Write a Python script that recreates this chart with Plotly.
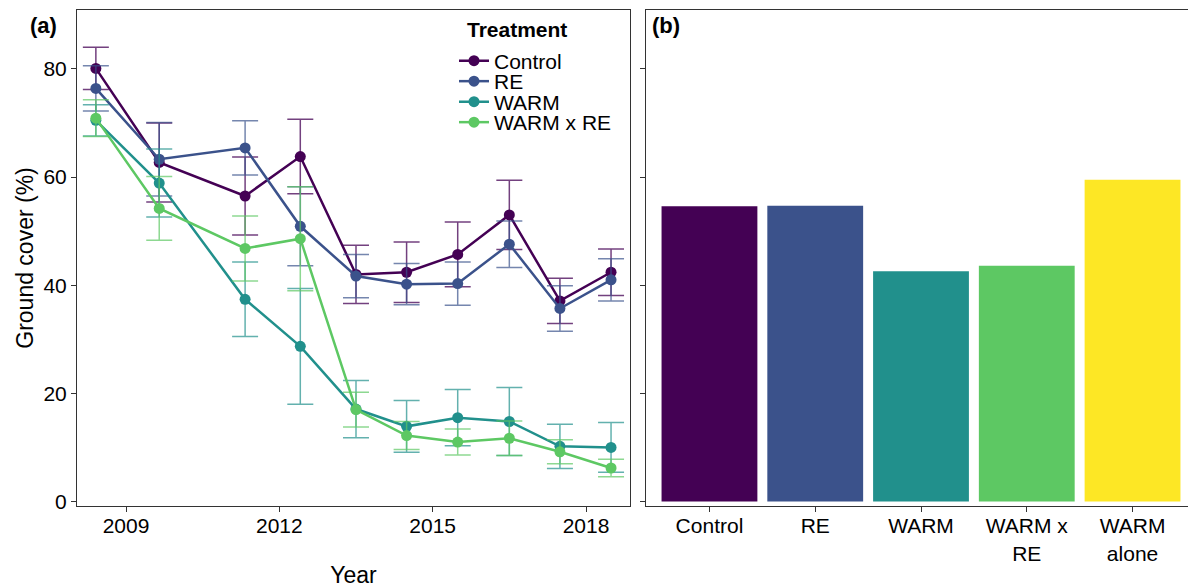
import plotly.graph_objects as go

# sampling dates as decimal years
years = [2008.41, 2009.65, 2011.33, 2012.41, 2013.50, 2014.49, 2015.49, 2016.50, 2017.49, 2018.49]

control = [80.1, 62.7, 56.5, 63.8, 42.0, 42.4, 45.7, 53.0, 37.1, 42.4]
control_se = [3.9, 7.3, 7.2, 6.9, 5.4, 5.6, 6.0, 6.4, 4.2, 4.3]
re = [76.4, 63.3, 65.4, 50.9, 41.7, 40.2, 40.3, 47.6, 35.7, 41.0]
re_se = [4.2, 6.8, 5.0, 7.3, 4.0, 3.8, 4.0, 4.3, 4.2, 3.9]
warm = [70.5, 58.9, 37.4, 28.7, 17.1, 13.9, 15.5, 14.8, 10.2, 10.0]
warm_se = [2.9, 6.3, 6.9, 10.7, 5.3, 4.8, 5.2, 6.3, 4.1, 4.6]
warm_re = [70.9, 54.2, 46.8, 48.6, 17.0, 12.2, 11.0, 11.7, 9.2, 6.2]
warm_re_se = [3.4, 5.9, 6.0, 9.6, 3.2, 2.6, 2.4, 3.2, 2.2, 1.6]

treatments = ["Control", "RE", "WARM", "WARM x RE"]
line_colors = ["#440154", "#3B528B", "#21908C", "#5DC863"]
err_colors = ["rgba(68,1,84,0.75)", "rgba(59,82,139,0.7)", "rgba(33,144,140,0.7)", "rgba(93,200,99,0.7)"]

bar_labels = ["Control", "RE", "WARM", "WARM x<br>RE", "WARM<br>alone"]
bar_values = [54.6, 54.7, 42.6, 43.6, 59.5]
bar_colors = ["#440154", "#3B528B", "#21908C", "#5DC863", "#FDE725"]

# page body has an 8px margin, so the figure is drawn 8px smaller
OFF = 8
W, H = 1196 - OFF, 588 - OFF
ML, MT, MB = 77 - OFF, 10 - OFF, H - (506 - OFF)
PW, PH = W - ML, H - MT - MB
FONT = "Liberation Sans, Arial, sans-serif"


def px(x):
    # screen x -> paper fraction
    return (x - OFF - ML) / PW


def py(y):
    # screen y -> paper fraction
    return 1 - (y - OFF - MT) / PH


fig = go.Figure()

legends = ["legend", "legend2", "legend3", "legend4"]
series = [(control, control_se), (re, re_se), (warm, warm_se), (warm_re, warm_re_se)]
for name, (vals, se), lc, ec, leg in zip(treatments, series, line_colors, err_colors, legends):
    fig.add_trace(go.Scatter(
        x=years, y=vals, name=name, mode="lines+markers", legend=leg,
        line=dict(color=lc, width=2.5),
        marker=dict(color=lc, size=11),
        error_y=dict(type="data", array=se, color=ec, thickness=1.5, width=13),
        xaxis="x", yaxis="y",
    ))

fig.add_trace(go.Bar(
    x=bar_labels, y=bar_values, marker=dict(color=bar_colors, line=dict(width=0)),
    showlegend=False, xaxis="x2", yaxis="y2",
))

axis_common = dict(showline=True, linecolor="#333333", linewidth=1, ticks="outside",
                   ticklen=5, tickcolor="#333333", showgrid=False, zeroline=False,
                   automargin=False,
                   tickfont=dict(size=21, color="black", family=FONT))

fig.update_layout(
    template="none",
    width=W, height=H,
    margin=dict(l=ML, r=0, t=MT, b=MB, pad=0),
    paper_bgcolor="white", plot_bgcolor="white",
    font=dict(family=FONT, color="black"),
    bargap=0.094,
    xaxis=dict(domain=[0, px(630)], range=[2008.041, 2018.861],
               tickvals=[2009, 2012, 2015, 2018], mirror=True, anchor="y",
               ticklabelstandoff=-4,
               title=dict(text="Year", font=dict(size=23), standoff=38), **axis_common),
    yaxis=dict(domain=[0, 1], range=[-0.83, 90.9], tickvals=[0, 20, 40, 60, 80],
               mirror=True, anchor="x",
               title=dict(text="Ground cover (%)", font=dict(size=23), standoff=3),
               **axis_common),
    xaxis2=dict(domain=[px(646), 1.0], range=[-0.6, 4.6], mirror=True, anchor="y2",
                ticklabelstandoff=-4, **axis_common),
    yaxis2=dict(domain=[0, 1], range=[-0.83, 90.9], tickvals=[0, 20, 40, 60, 80],
                showticklabels=False, anchor="x2", **axis_common),
    annotations=[
        dict(text="<b>(a)</b>", x=px(43), y=py(25), xref="paper", yref="paper",
             xanchor="center", yanchor="middle", showarrow=False, font=dict(size=22)),
        dict(text="<b>(b)</b>", x=px(666), y=py(25), xref="paper", yref="paper",
             xanchor="center", yanchor="middle", showarrow=False, font=dict(size=22)),
        dict(text="<b>Treatment</b>", x=px(465), y=py(30), xref="paper", yref="paper",
             xanchor="left", yanchor="middle", showarrow=False, font=dict(size=21)),
    ],
)

leg_y = [62, 82.5, 103, 123.5]
for leg, ly in zip(legends, leg_y):
    fig.update_layout({leg: dict(x=px(454), y=py(ly - 1), xanchor="left", yanchor="middle",
                                 bgcolor="rgba(0,0,0,0)", font=dict(size=21, family=FONT),
                                 borderwidth=0, tracegroupgap=0)})

fig.write_html("out.html")
